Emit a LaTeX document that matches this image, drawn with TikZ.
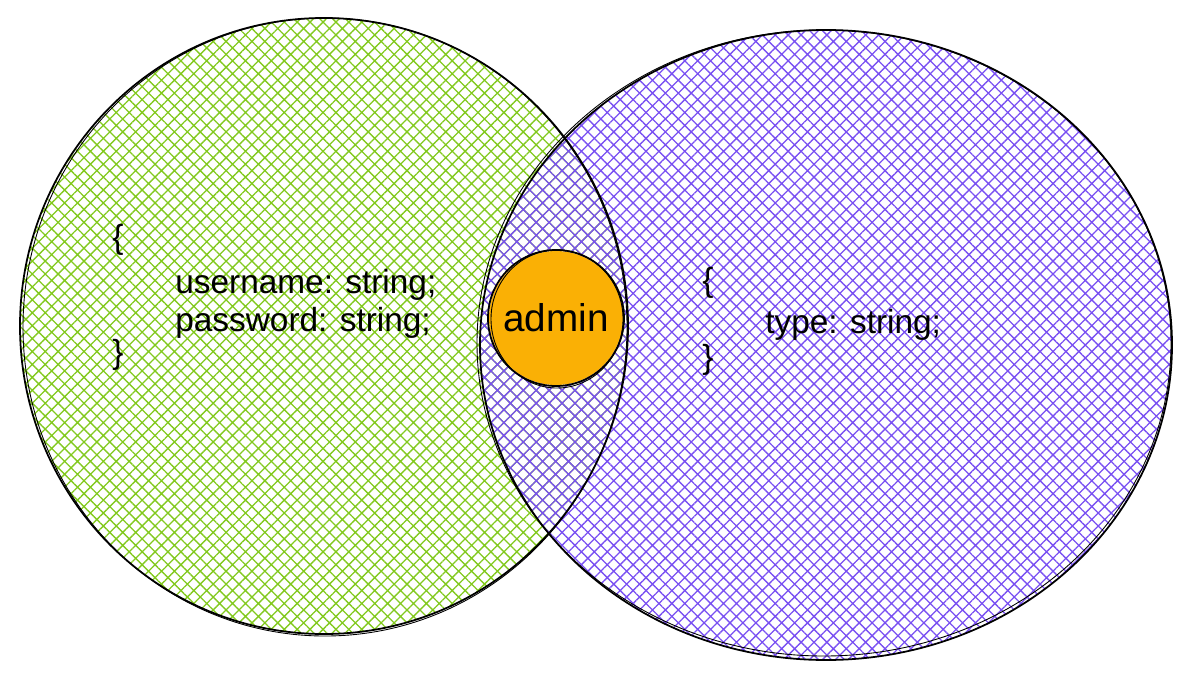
\documentclass[tikz,border=0pt]{standalone}
\usepackage{fontspec}
\setmainfont{Liberation Sans}
\usetikzlibrary{patterns.meta}
\definecolor{setgreen}{RGB}{130,201,30}
\definecolor{setviolet}{RGB}{121,80,242}
\definecolor{adminorange}{RGB}{250,176,5}
\tikzset{
  hatchfill/.style={pattern={Hatch[angle=45,distance=5.2pt,line width=0.75pt]}, pattern color=#1},
  sketch/.style={draw=black, line width=1pt},
  label/.style={font=\fontsize{19}{22}\selectfont, inner sep=0pt}
}
\begin{document}
\begin{tikzpicture}[x=0.02cm, y=0.02cm]
    \useasboundingbox (0,0) rectangle (1192,681);

    % Hatched sets
    \fill[hatchfill=setgreen] (324,355) ellipse [x radius=304, y radius=308];
    \fill[hatchfill=setviolet] (826,336) ellipse [x radius=346, y radius=315];

    % Sketchy outlines
    \draw[sketch] (324,355) ellipse [x radius=304, y radius=308];
    \draw[sketch, line width=0.5pt] (325,354) ellipse [x radius=302, y radius=309];
    \draw[sketch] (826,336) ellipse [x radius=346, y radius=315];
    \draw[sketch, line width=0.5pt] (824,338) ellipse [x radius=347, y radius=313];

    % Admin circle
    \fill[adminorange] (556,363) circle (67);
    \draw[sketch] (556,363) circle (68);
    \draw[sketch, line width=0.5pt] (557,362) ellipse [x radius=66, y radius=69];
    \node[label, font=\fontsize{22}{26}\selectfont] (admin) at (556,363) {admin};

    % Left set fields
    \node[label] (leftopen) at (118,441) {\{};
    \node[label, anchor=west, align=left] (userfields) at (175,377) {username: string;\\password: string;};
    \node[label] (leftclose) at (118,326) {\}};

    % Right set fields
    \node[label] (rightopen) at (708,398) {\{};
    \node[label, anchor=west] (typefield) at (765,356) {type: string;};
    \node[label] (rightclose) at (708,321) {\}};

\end{tikzpicture}
\end{document}
